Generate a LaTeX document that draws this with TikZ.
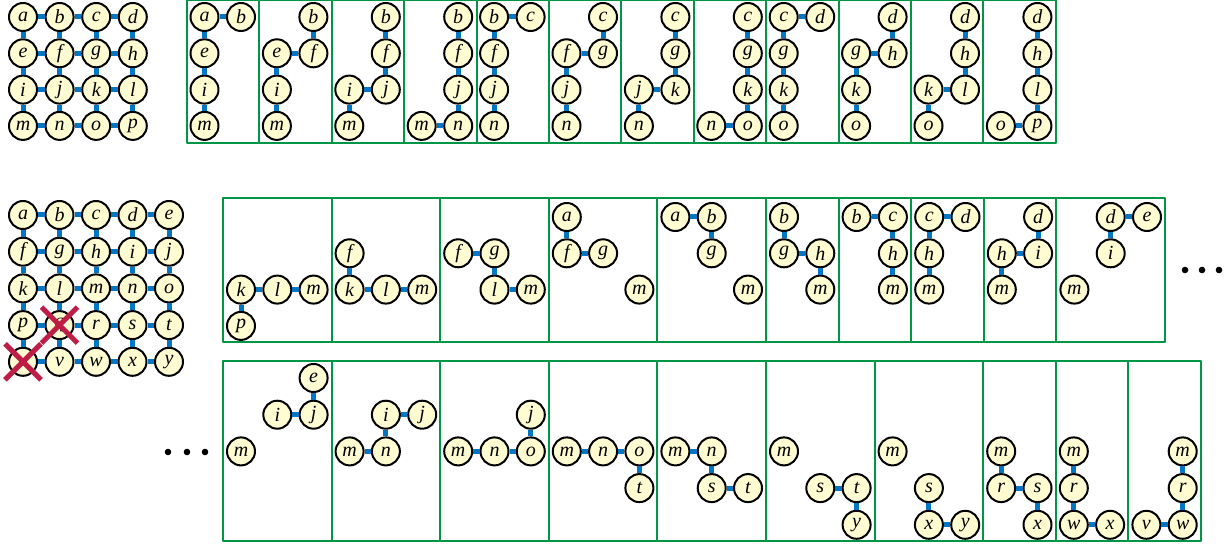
\documentclass[tikz,border=0pt]{standalone}
\usepackage{fontspec}
\setmainfont{Liberation Serif}
\usetikzlibrary{arrows.meta}

\begin{document}
\begin{tikzpicture}[x=0.75pt,y=-0.75pt,line join=round,
  vtx/.style={circle,draw=black,line width=1.5pt,fill=vtxfill,minimum size=21pt,inner sep=0pt,
    font=\fontsize{15}{15}\selectfont\rmfamily\itshape},
  lnk/.style={draw=lnkc,line width=3.75pt},
  pan/.style={draw=panc,line width=1.5pt},
  xmark/.style={draw=xmarkc,line width=3.8pt}]
\definecolor{vtxfill}{RGB}{255,252,210}\definecolor{lnkc}{RGB}{0,118,196}
\definecolor{panc}{RGB}{0,150,70}\definecolor{xmarkc}{RGB}{190,30,70}
\useasboundingbox (0,0) rectangle (1225,545);
\def\abc{{"a","b","c","d","e","f","g","h","i","j","k","l","m","n","o","p"}}
% 4x4 grid
\foreach \nm [count=\k from 0] in {a,...,p}{
  \pgfmathtruncatemacro\r{div(\k,4)}\pgfmathtruncatemacro\c{mod(\k,4)}
  \node[vtx] (A\r\c) at (23+36.6*\c,17+36.3*\r) {\nm};}
\foreach \r in {0,...,3}{\foreach \c [count=\d] in {0,...,2}{
  \draw[lnk] (A\r\c) -- (A\r\d); \draw[lnk] (A\c\r) -- (A\d\r);}}
% twelve panels: column pair \p, step down at row \s
\foreach \p in {0,1,2}{\foreach \s in {0,...,3}{
  \pgfmathsetmacro\px{187+72.4*(4*\p+\s)}
  \draw[pan] (\px,0) rectangle ++(72.4,143);
  \foreach \r in {0,...,\s}{\pgfmathsetmacro\nm{\abc[4*\r+\p+1]}
    \node[vtx] (T\p\s-R\r) at (\px+54,17+36.3*\r) {\nm};}
  \foreach \r in {\s,...,3}{\pgfmathsetmacro\nm{\abc[4*\r+\p]}
    \node[vtx] (T\p\s-L\r) at (\px+17.5,17+36.3*\r) {\nm};}
  \draw[lnk] (T\p\s-L\s) -- (T\p\s-R\s);
  \ifnum\s>0 \foreach \r [evaluate=\r as \q using int(\r-1)] in {1,...,\s}{\draw[lnk] (T\p\s-R\q) -- (T\p\s-R\r);}\fi
  \ifnum\s<3 \foreach \r [evaluate=\r as \q using int(\r+1)] in {\s,...,2}{\draw[lnk] (T\p\s-L\r) -- (T\p\s-L\q);}\fi}}
% 5x5 grid, q and u crossed out
\foreach \nm [count=\k from 0] in {a,...,y}{
  \pgfmathtruncatemacro\r{div(\k,5)}\pgfmathtruncatemacro\c{mod(\k,5)}
  \node[vtx] (B\r\c) at (23+36.5*\c,215+36.7*\r) {\nm};}
\foreach \r in {0,...,4}{\foreach \c [count=\d] in {0,...,3}{
  \draw[lnk] (B\r\c) -- (B\r\d); \draw[lnk] (B\c\r) -- (B\d\r);}}
\draw[xmark] (B31) +(-18,-18) -- +(18,18) +(-18,18) -- +(18,-18);
\draw[xmark] (B40) +(-18,-18) -- +(18,18) +(-18,18) -- +(18,-18);
% first row of panels
\draw[pan] (223,198) rectangle (331.6,342);
\foreach \nm/\c/\r in {k/0/2,l/1/2,m/2/2,p/0/3}\node[vtx] (U1-\nm) at (241+36.3*\c,217+36.3*\r) {\nm};
\foreach \u/\v in {k/l,l/m,k/p}\draw[lnk] (U1-\u) -- (U1-\v);
\draw[pan] (331.6,198) rectangle (440.2,342);
\foreach \nm/\c/\r in {f/0/1,k/0/2,l/1/2,m/2/2}\node[vtx] (U2-\nm) at (349.6+36.3*\c,217+36.3*\r) {\nm};
\foreach \u/\v in {f/k,k/l,l/m}\draw[lnk] (U2-\u) -- (U2-\v);
\draw[pan] (440.2,198) rectangle (548.8,342);
\foreach \nm/\c/\r in {f/0/1,g/1/1,l/1/2,m/2/2}\node[vtx] (U3-\nm) at (458.2+36.3*\c,217+36.3*\r) {\nm};
\foreach \u/\v in {f/g,g/l,l/m}\draw[lnk] (U3-\u) -- (U3-\v);
\draw[pan] (548.8,198) rectangle (657.4,342);
\foreach \nm/\c/\r in {a/0/0,f/0/1,g/1/1,m/2/2}\node[vtx] (U4-\nm) at (566.8+36.3*\c,217+36.3*\r) {\nm};
\foreach \u/\v in {a/f,f/g}\draw[lnk] (U4-\u) -- (U4-\v);
\draw[pan] (657.4,198) rectangle (766,342);
\foreach \nm/\c/\r in {a/0/0,b/1/0,g/1/1,m/2/2}\node[vtx] (U5-\nm) at (675.4+36.3*\c,217+36.3*\r) {\nm};
\foreach \u/\v in {a/b,b/g}\draw[lnk] (U5-\u) -- (U5-\v);
\draw[pan] (766,198) rectangle (838.6,342);
\foreach \nm/\c/\r in {b/0/0,g/0/1,h/1/1,m/1/2}\node[vtx] (U6-\nm) at (784+36.3*\c,217+36.3*\r) {\nm};
\foreach \u/\v in {b/g,g/h,h/m}\draw[lnk] (U6-\u) -- (U6-\v);
\draw[pan] (838.6,198) rectangle (911.2,342);
\foreach \nm/\c/\r in {b/0/0,c/1/0,h/1/1,m/1/2}\node[vtx] (U7-\nm) at (856.6+36.3*\c,217+36.3*\r) {\nm};
\foreach \u/\v in {b/c,c/h,h/m}\draw[lnk] (U7-\u) -- (U7-\v);
\draw[pan] (911.2,198) rectangle (983.8,342);
\foreach \nm/\c/\r in {c/0/0,d/1/0,h/0/1,m/0/2}\node[vtx] (U8-\nm) at (929.2+36.3*\c,217+36.3*\r) {\nm};
\foreach \u/\v in {c/d,c/h,h/m}\draw[lnk] (U8-\u) -- (U8-\v);
\draw[pan] (983.8,198) rectangle (1056.4,342);
\foreach \nm/\c/\r in {d/1/0,h/0/1,i/1/1,m/0/2}\node[vtx] (U9-\nm) at (1001.8+36.3*\c,217+36.3*\r) {\nm};
\foreach \u/\v in {d/i,h/i,h/m}\draw[lnk] (U9-\u) -- (U9-\v);
\draw[pan] (1056.4,198) rectangle (1165,342);
\foreach \nm/\c/\r in {d/1/0,e/2/0,i/1/1,m/0/2}\node[vtx] (U10-\nm) at (1074.4+36.3*\c,217+36.3*\r) {\nm};
\foreach \u/\v in {d/e,d/i}\draw[lnk] (U10-\u) -- (U10-\v);
\foreach \x in {1185,1202,1219}\fill (\x,270) circle (3.3);
% second row of panels
\foreach \x in {168,187,205}\fill (\x,452) circle (3.3);
\draw[pan] (223,361) rectangle (331.6,541);
\foreach \nm/\c/\r in {e/2/0,i/1/1,j/2/1,m/0/2}\node[vtx] (V1-\nm) at (241+36.3*\c,378+36.7*\r) {\nm};
\foreach \u/\v in {e/j,i/j}\draw[lnk] (V1-\u) -- (V1-\v);
\draw[pan] (331.6,361) rectangle (440.2,541);
\foreach \nm/\c/\r in {i/1/1,j/2/1,m/0/2,n/1/2}\node[vtx] (V2-\nm) at (349.6+36.3*\c,378+36.7*\r) {\nm};
\foreach \u/\v in {i/j,i/n,m/n}\draw[lnk] (V2-\u) -- (V2-\v);
\draw[pan] (440.2,361) rectangle (548.8,541);
\foreach \nm/\c/\r in {j/2/1,m/0/2,n/1/2,o/2/2}\node[vtx] (V3-\nm) at (458.2+36.3*\c,378+36.7*\r) {\nm};
\foreach \u/\v in {j/o,m/n,n/o}\draw[lnk] (V3-\u) -- (V3-\v);
\draw[pan] (548.8,361) rectangle (657.4,541);
\foreach \nm/\c/\r in {m/0/2,n/1/2,o/2/2,t/2/3}\node[vtx] (V4-\nm) at (566.8+36.3*\c,378+36.7*\r) {\nm};
\foreach \u/\v in {m/n,n/o,o/t}\draw[lnk] (V4-\u) -- (V4-\v);
\draw[pan] (657.4,361) rectangle (766,541);
\foreach \nm/\c/\r in {m/0/2,n/1/2,s/1/3,t/2/3}\node[vtx] (V5-\nm) at (675.4+36.3*\c,378+36.7*\r) {\nm};
\foreach \u/\v in {m/n,n/s,s/t}\draw[lnk] (V5-\u) -- (V5-\v);
\draw[pan] (766,361) rectangle (874.6,541);
\foreach \nm/\c/\r in {m/0/2,s/1/3,t/2/3,y/2/4}\node[vtx] (V6-\nm) at (784+36.3*\c,378+36.7*\r) {\nm};
\foreach \u/\v in {s/t,t/y}\draw[lnk] (V6-\u) -- (V6-\v);
\draw[pan] (874.6,361) rectangle (983.2,541);
\foreach \nm/\c/\r in {m/0/2,s/1/3,x/1/4,y/2/4}\node[vtx] (V7-\nm) at (892.6+36.3*\c,378+36.7*\r) {\nm};
\foreach \u/\v in {s/x,x/y}\draw[lnk] (V7-\u) -- (V7-\v);
\draw[pan] (983.2,361) rectangle (1055.8,541);
\foreach \nm/\c/\r in {m/0/2,r/0/3,s/1/3,x/1/4}\node[vtx] (V8-\nm) at (1001.2+36.3*\c,378+36.7*\r) {\nm};
\foreach \u/\v in {m/r,r/s,s/x}\draw[lnk] (V8-\u) -- (V8-\v);
\draw[pan] (1055.8,361) rectangle (1128.4,541);
\foreach \nm/\c/\r in {m/0/2,r/0/3,w/0/4,x/1/4}\node[vtx] (V9-\nm) at (1073.8+36.3*\c,378+36.7*\r) {\nm};
\foreach \u/\v in {m/r,r/w,w/x}\draw[lnk] (V9-\u) -- (V9-\v);
\draw[pan] (1128.4,361) rectangle (1201,541);
\foreach \nm/\c/\r in {m/1/2,r/1/3,v/0/4,w/1/4}\node[vtx] (V10-\nm) at (1146.4+36.3*\c,378+36.7*\r) {\nm};
\foreach \u/\v in {m/r,r/w,v/w}\draw[lnk] (V10-\u) -- (V10-\v);
\end{tikzpicture}
\end{document}
